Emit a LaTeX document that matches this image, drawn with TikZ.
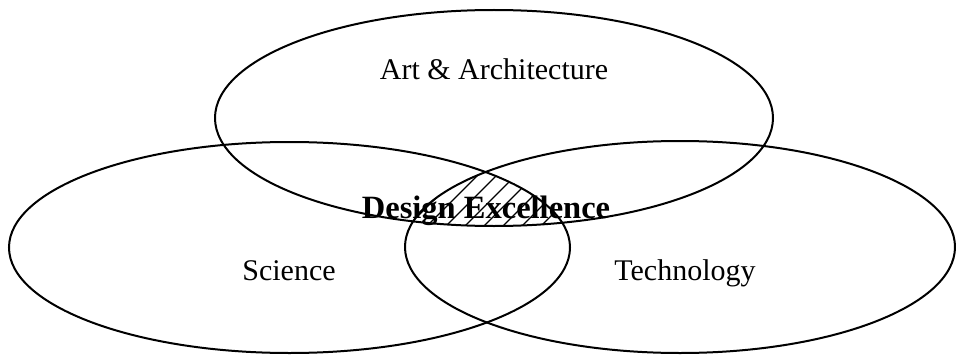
\documentclass[tikz,border=0pt]{standalone}
\usepackage{fontspec}
\setmainfont{Liberation Serif}

\begin{document}
\begin{tikzpicture}[x=1pt, y=1pt]

  \useasboundingbox (0,0) rectangle (956,357);

  % Ellipse centres and radii
  \coordinate (cart) at (494,239);
  \coordinate (csci) at (289.5,109.5);
  \coordinate (ctech) at (680,110);
  \def\artrx{279pt}  \def\artry{108pt}
  \def\scirx{280.5pt} \def\sciry{105.5pt}
  \def\techrx{275pt} \def\techry{106pt}

  % Hatched overlap of all three
  \begin{scope}
    \clip (cart) ellipse [x radius=\artrx, y radius=\artry];
    \clip (csci) ellipse [x radius=\scirx, y radius=\sciry];
    \clip (ctech) ellipse [x radius=\techrx, y radius=\techry];
    \foreach \k in {-6,...,10}
      \draw[line width=1.4pt] ({415+19*\k},100) -- ++(120,120);
  \end{scope}

  % Ellipses
  \draw[line width=2pt] (cart) ellipse [x radius=\artrx, y radius=\artry];
  \draw[line width=2pt] (csci) ellipse [x radius=\scirx, y radius=\sciry];
  \draw[line width=2pt] (ctech) ellipse [x radius=\techrx, y radius=\techry];

  % Labels
  \node[font=\fontsize{30}{36}\selectfont, anchor=base] (art) at (494,277) {Art \& Architecture};
  \node[font=\fontsize{30}{36}\selectfont, anchor=base] (sci) at (289,77) {Science};
  \node[font=\fontsize{30}{36}\selectfont, anchor=base] (tech) at (685,77) {Technology};
  \node[font=\fontsize{32.5}{38}\selectfont\bfseries, anchor=base] (design) at (486,139) {Design Excellence};

\end{tikzpicture}
\end{document}
